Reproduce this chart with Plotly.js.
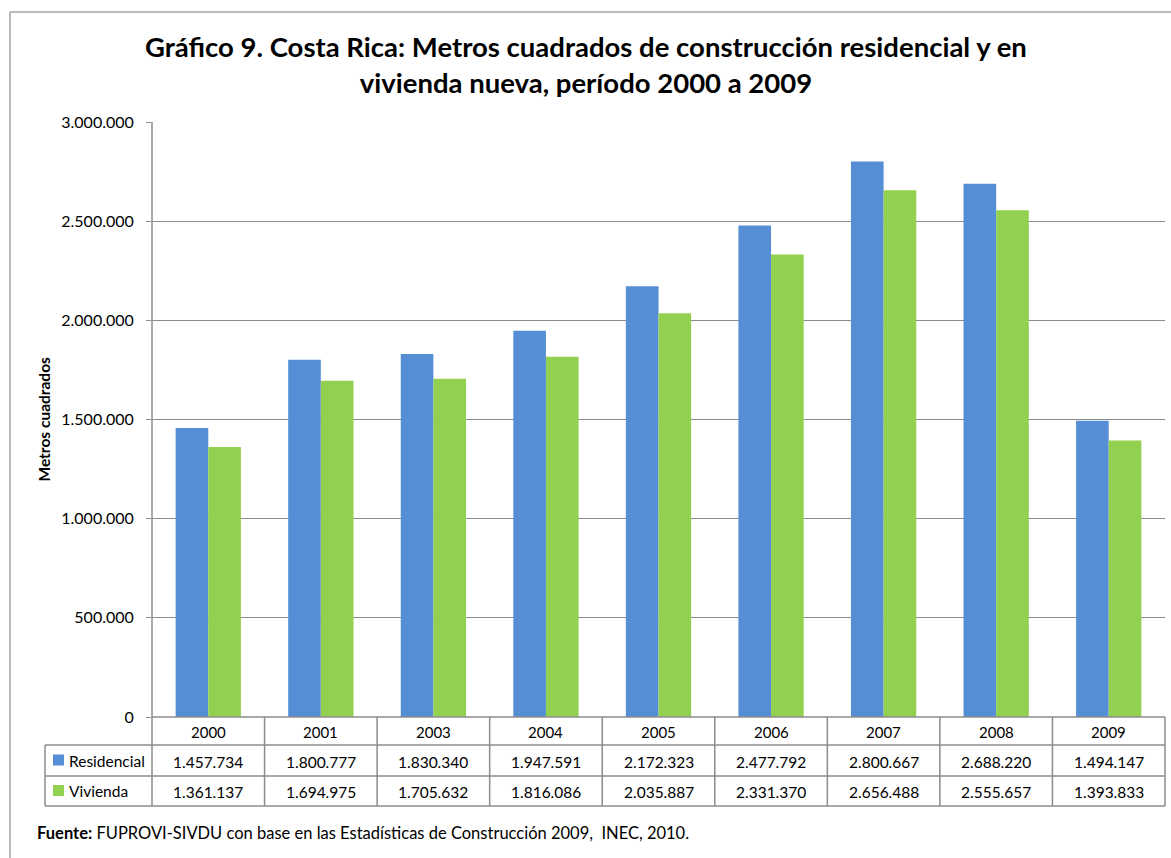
<!DOCTYPE html>
<html>
<head>
<meta charset="utf-8">
<script src="https://cdn.plot.ly/plotly-3.0.1.min.js"></script>
<style>
  body { margin: 0; background: #fff; }
  #plot { width: 1171px; height: 858px; }
</style>
</head>
<body>
<div id="plot"></div>
<script>
// years shown in the chart (2002 is not in the source)
var years = ["2000", "2001", "2003", "2004", "2005", "2006", "2007", "2008", "2009"];
var residencial = [1457734, 1800777, 1830340, 1947591, 2172323, 2477792, 2800667, 2688220, 1494147];
var vivienda = [1361137, 1694975, 1705632, 1816086, 2035887, 2331370, 2656488, 2555657, 1393833];
var seriesNames = ["Residencial", "Vivienda"];
var seriesColors = ["#558ED5", "#92D050"];

// plot area in pixels
var W = 1171, H = 858;
var L = 152, R = 1165, T = 122, B = 717;

function px(x) { return (x - L) / (R - L); }
function py(y) { return (B - y) / (B - T); }
function fmt(v) { return String(v).replace(/\B(?=(\d{3})+(?!\d))/g, "."); }

var trace1 = {
    x: years,
    y: residencial,
    name: seriesNames[0],
    type: "bar",
    marker: { color: seriesColors[0] },
    hoverinfo: "none"
};

var trace2 = {
    x: years,
    y: vivienda,
    name: seriesNames[1],
    type: "bar",
    marker: { color: seriesColors[1] },
    hoverinfo: "none"
};

var lineColor = "#8c8c8c";
var rowTop = 717, row1 = 745, row2 = 776, rowEnd = 806, colLeft = 45;
var n = years.length;

var shapes = [];
var annotations = [];

function hline(x0, x1, y, color) {
    shapes.push({ type: "line", xref: "paper", yref: "paper", x0: x0, x1: x1, y0: y, y1: y, line: { color: color || lineColor, width: 1.5 } });
}
function vline(x, y0, y1, color) {
    shapes.push({ type: "line", xref: "paper", yref: "paper", x0: x, x1: x, y0: y0, y1: y1, line: { color: color || lineColor, width: 1.5 } });
}
function label(x, y, text, size, xanchor) {
    annotations.push({ xref: "paper", yref: "paper", x: x, y: y, xanchor: xanchor || "center", yanchor: "middle", text: text, showarrow: false, font: { size: size, color: "#000" } });
}

// outer frame of the chart
hline(px(10), px(W + 5), py(12), "#a6a6a6");
vline(px(10), py(12), py(H + 5), "#a6a6a6");

// table lines
hline(0, 1, py(rowTop));
[row1, row2, rowEnd].forEach(function (yy) { hline(px(colLeft), 1, py(yy)); });
vline(0, 1, py(rowEnd));
vline(px(colLeft), py(row1), py(rowEnd));
for (var i = 1; i <= n; i++) vline(i / n, py(rowTop), py(rowEnd));

// legend keys in the table
[[row1, row2], [row2, rowEnd]].forEach(function (r, k) {
    var mid = (r[0] + r[1]) / 2;
    shapes.push({ type: "rect", xref: "paper", yref: "paper", x0: px(53), x1: px(64), y0: py(mid - 6), y1: py(mid + 5), fillcolor: seriesColors[k], line: { width: 0 } });
    label(px(67), py(mid), seriesNames[k], 15.5, "left");
});

// table cells
years.forEach(function (yr, j) {
    var cx = (j + 0.5) / n;
    label(cx, py((rowTop + row1) / 2 + 1), yr, 15);
    label(cx, py((row1 + row2) / 2 + 1), fmt(residencial[j]), 15.5);
    label(cx, py((row2 + rowEnd) / 2 + 1), fmt(vivienda[j]), 15.5);
});

// title
label(px(W / 2), py(65), "<b>Gráfico 9. Costa Rica: Metros cuadrados de construcción residencial y en<br>vivienda nueva, período 2000 a 2009</b>", 27.5);

// y axis title
annotations.push({ xref: "paper", yref: "paper", x: px(43), y: 0.5, xanchor: "center", yanchor: "middle", textangle: -90, text: "<b>Metros cuadrados</b>", showarrow: false, font: { size: 15.5, color: "#000" } });

// source note
label(px(35), py(833), "<b>Fuente:</b> FUPROVI-SIVDU con base en las Estadísticas de Construcción 2009,  INEC, 2010.", 16.5, "left");

var data = [trace1, trace2];

var layout = {
    width: W,
    height: H,
    margin: { l: L, r: W - R, t: T, b: H - B, pad: 0 },
    paper_bgcolor: "#fff",
    plot_bgcolor: "#fff",
    font: { family: "Lato, 'Open Sans', sans-serif", color: "#000" },
    separators: ",.",
    showlegend: false,
    barmode: "group",
    bargap: 0.42,
    bargroupgap: 0,
    xaxis: {
        type: "category",
        range: [-0.5, n - 0.5],
        autorange: false,
        showticklabels: false,
        showgrid: false,
        zeroline: false,
        showline: false,
        ticks: ""
    },
    yaxis: {
        range: [0, 3000000],
        autorange: false,
        dtick: 500000,
        tickformat: ",d",
        showgrid: true,
        gridcolor: "#8c8c8c",
        gridwidth: 1,
        zeroline: false,
        showline: false,
        ticks: "outside",
        ticklen: 5,
        tickcolor: "#8c8c8c",
        ticklabelstandoff: 9,
        tickfont: { size: 16, color: "#000" }
    },
    shapes: shapes,
    annotations: annotations
};

Plotly.newPlot("plot", data, layout, { displayModeBar: false, staticPlot: true });
</script>
</body>
</html>
